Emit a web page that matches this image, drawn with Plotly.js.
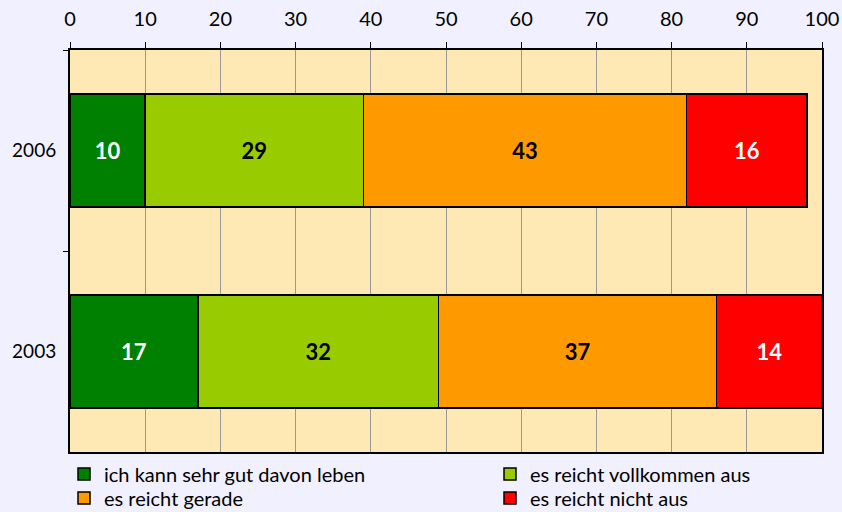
<!DOCTYPE html>
<html>
<head>
<meta charset="utf-8">
<script src="https://cdn.plot.ly/plotly-3.0.1.min.js"></script>
<style>html,body{margin:0;padding:0;background:#f0f0ff;}</style>
</head>
<body>
<div id="chart" style="width:842px;height:512px;"></div>
<script>
const years = ['2006', '2003'];
const seriesNames = ['ich kann sehr gut davon leben', 'es reicht vollkommen aus', 'es reicht gerade', 'es reicht nicht aus'];
const sehrGut = [10, 17];
const vollkommen = [29, 32];
const gerade = [43, 37];
const nichtAus = [16, 14];
const xTicks = [0, 10, 20, 30, 40, 50, 60, 70, 80, 90, 100];

const colors = ['#008000', '#99cc00', '#ff9900', '#ff0000'];
const textColors = ['#ffffff', '#000000', '#000000', '#ffffff'];
const legendIds = ['legend', 'legend2', 'legend3', 'legend4'];
const values = [sehrGut, vollkommen, gerade, nichtAus];

const traces = values.map((v, i) => ({
  type: 'bar',
  orientation: 'h',
  y: years,
  x: v,
  name: seriesNames[i],
  legend: legendIds[i],
  text: v.map(String),
  textposition: 'inside',
  insidetextanchor: 'middle',
  constraintext: 'none',
  textfont: {family: 'Lato, sans-serif', size: 22, color: textColors[i], weight: 'bold'},
  marker: {color: colors[i], line: {color: '#000000', width: 1.5}},
  width: 0.56,
  hoverinfo: 'none'
}));

const W = 842, H = 512;
function legendAt(px, py) {
  return {
    xref: 'container', yref: 'container',
    x: px / W, y: 1 - py / H, xanchor: 'left', yanchor: 'middle',
    font: {size: 20, family: 'Lato, sans-serif'}, bgcolor: 'rgba(0,0,0,0)',
    borderwidth: 0, itemwidth: 30
  };
}

const layout = {
  width: W, height: H,
  paper_bgcolor: '#f0f0ff',
  plot_bgcolor: '#fee9b4',
  barmode: 'stack',
  margin: {l: 70, r: 20, t: 50, b: 60, autoexpand: false},
  font: {family: 'Lato, sans-serif', color: '#000000'},
  xaxis: {
    side: 'top', range: [0, 100], tickvals: xTicks, ticktext: xTicks.map(String),
    ticks: 'outside', ticklen: 6, tickcolor: '#000', tickwidth: 1,
    ticklabelstandoff: 8,
    showgrid: true, gridcolor: '#999999', gridwidth: 1,
    showline: true, linecolor: '#000', linewidth: 2, mirror: true,
    tickfont: {size: 20}, zeroline: false, fixedrange: true, automargin: false
  },
  yaxis: {
    type: 'category', categoryorder: 'array', categoryarray: years, autorange: 'reversed',
    ticks: 'outside', tickson: 'boundaries', ticklen: 5, tickcolor: '#000',
    ticklabelstandoff: 8,
    showgrid: false, showline: true, linecolor: '#000', linewidth: 2, mirror: true,
    tickfont: {size: 19}, fixedrange: true, automargin: false
  },
  legend: legendAt(64, 474),
  legend2: legendAt(490, 474),
  legend3: legendAt(64, 498),
  legend4: legendAt(490, 498),
  showlegend: true
};

Plotly.newPlot('chart', traces, layout, {displayModeBar: false, staticPlot: true});
</script>
</body>
</html>
